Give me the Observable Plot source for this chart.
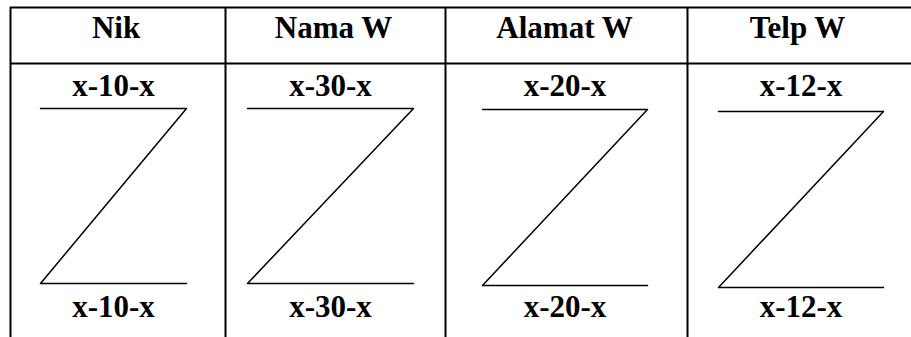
<!DOCTYPE html>
<html><head><meta charset="utf-8">
<script src="https://cdn.jsdelivr.net/npm/d3@7"></script>
<script src="https://cdn.jsdelivr.net/npm/@observablehq/plot@0.6"></script>
<style>html,body{margin:0;padding:0;background:#fff;overflow:hidden}</style>
</head><body><div id="chart"></div>
<script>
// Table header (field names) and field-length labels
const headers = ["Nik", "Nama W", "Alamat W", "Telp W"];
const topLabels = ["x-10-x", "x-30-x", "x-20-x", "x-12-x"];
const bottomLabels = ["x-10-x", "x-30-x", "x-20-x", "x-12-x"];
// Column boundaries of the table
const colEdges = [10, 225, 445, 687, 911];
// Z-shape extents per column
const zLeft = [40, 247, 482, 718];
const zRight = [186, 413, 647, 883];
const zTop = [108, 108, 109, 111];
const zBottom = [283, 283, 285, 287];
// Rows of the table
const tableTop = 7, headerBottom = 63, tableBottom = 337;
const headerBase = 37, topLabelBase = 95, bottomLabelBase = 316;

const cols = headers.map((h, i) => ({
  header: h, top: topLabels[i], bottom: bottomLabels[i],
  cx: (colEdges[i] + colEdges[i + 1]) / 2 - 2,
  zx: (zLeft[i] + zRight[i]) / 2
}));
const zPts = headers.flatMap((h, i) => [
  {c: h, x: zLeft[i], y: zTop[i]},
  {c: h, x: zRight[i], y: zTop[i]},
  {c: h, x: zLeft[i], y: zBottom[i]},
  {c: h, x: zRight[i], y: zBottom[i]}
]);
const vEdges = colEdges.slice(0, 4);

const font = {fontFamily: "Liberation Serif", fontWeight: "bold", fill: "black", textAnchor: "middle", lineAnchor: "bottom", fontSize: 31};

const chart = Plot.plot({
  width: 911, height: 337, margin: 0,
  x: {domain: [0, 911], range: [0, 911], axis: null},
  y: {domain: [0, 337], range: [0, 337], axis: null},
  style: {background: "white"},
  marks: [
    Plot.ruleY([tableTop, headerBottom], {x1: colEdges[0], x2: colEdges[4], stroke: "black", strokeWidth: 2}),
    Plot.ruleX(vEdges, {y1: tableTop, y2: tableBottom, stroke: "black", strokeWidth: 2}),
    Plot.line(zPts, {x: "x", y: "y", z: "c", stroke: "black", strokeWidth: 1.5, curve: "linear"}),
    Plot.text(cols, {x: "cx", y: () => headerBase, text: "header", ...font}),
    Plot.text(cols, {x: "zx", y: () => topLabelBase, text: "top", ...font}),
    Plot.text(cols, {x: "zx", y: () => bottomLabelBase, text: "bottom", ...font})
  ]
});
document.getElementById("chart").appendChild(chart);
</script>
</body></html>
